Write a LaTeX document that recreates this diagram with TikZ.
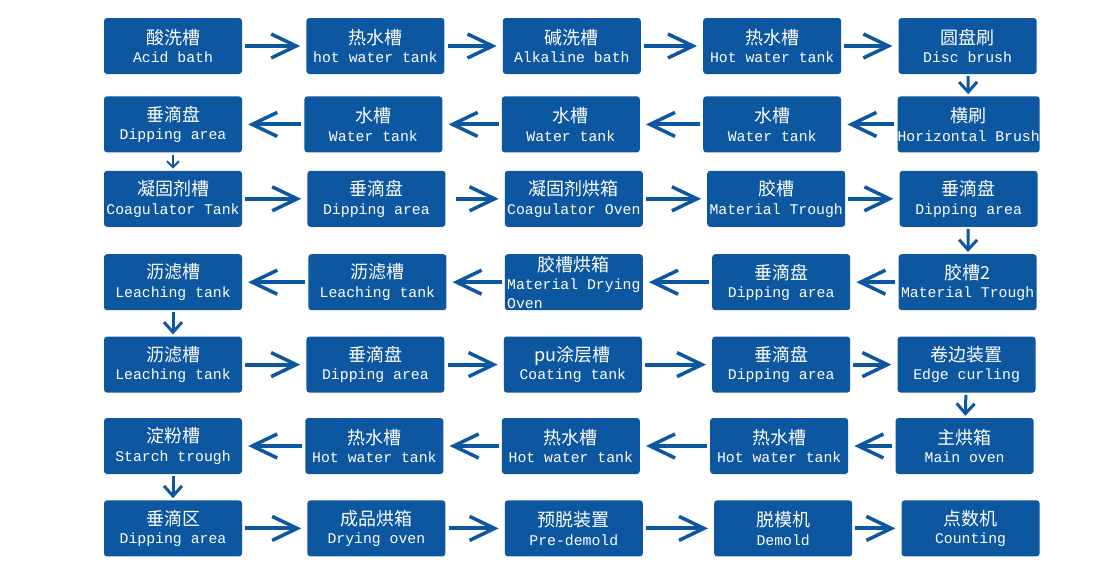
\documentclass[tikz,border=0pt]{standalone}
\usepackage{fontspec}
\setmonofont{Liberation Mono}
\newfontfamily\cjkfont{Noto Sans CJK SC}
\usepackage{xcolor}
\usepackage{tikz}
\usetikzlibrary{arrows.meta,positioning}
\definecolor{flowblue}{RGB}{13,86,160}
\newcommand{\zhline}[1]{{\cjkfont\fontsize{18}{18.5}\selectfont #1}}

\begin{document}
\begin{tikzpicture}[
        font=\ttfamily\fontsize{14.8}{18.5}\selectfont,
        box/.style={fill=flowblue, text=white, rounded corners=3pt, align=center, inner xsep=0pt, inner ysep=1pt, minimum width=138pt, minimum height=56pt},
        arr/.style={-{Straight Barb[length=25pt,width=24pt,line width=3.5pt]}, line width=4pt, flowblue, shorten <=3pt, shorten >=6pt},
        darr/.style={-{Straight Barb[length=10pt,width=18pt,line width=3pt]}, line width=3pt, flowblue, shorten <=2pt, shorten >=2pt}
    ]
        \useasboundingbox (0,0) rectangle (1102pt,-562pt);
        % row 1
        \node[box] (acid) at (173pt,-46pt) {\zhline{酸洗槽}\\Acid bath};
        \node[box, right=64pt of acid] (hotA) {\zhline{热水槽}\\hot water tank};
        \node[box, right=58pt of hotA] (alkali) {\zhline{碱洗槽}\\Alkaline bath};
        \node[box, right=62pt of alkali] (hotB) {\zhline{热水槽}\\Hot water tank};
        \node[box, right=57pt of hotB] (disc) {\zhline{圆盘刷}\\Disc brush};
        % row 2
        \node[box, below=22pt of acid] (dripA) {\zhline{垂滴盘}\\Dipping area};
        \node[box, right=62pt of dripA] (waterA) {\zhline{水槽}\\Water tank};
        \node[box, right=59pt of waterA] (waterB) {\zhline{水槽}\\Water tank};
        \node[box, right=63pt of waterB] (waterC) {\zhline{水槽}\\Water tank};
        \node[box, right=56pt of waterC] (hbrush) {\zhline{横刷}\\Horizontal Brush};
        % row 3
        \node[box, below=18pt of dripA] (coag) {\zhline{凝固剂槽}\\Coagulator Tank};
        \node[box, right=65pt of coag] (dripB) {\zhline{垂滴盘}\\Dipping area};
        \node[box, right=59pt of dripB] (coagoven) {\zhline{凝固剂烘箱}\\Coagulator Oven};
        \node[box, right=64pt of coagoven] (trough) {\zhline{胶槽}\\Material Trough};
        \node[box, right=54pt of trough] (dripC) {\zhline{垂滴盘}\\Dipping area};
        % row 4
        \node[box, below=27pt of coag] (leachA) {\zhline{沥滤槽}\\Leaching tank};
        \node[box, right=66pt of leachA] (leachB) {\zhline{沥滤槽}\\Leaching tank};
        \node[box, right=58pt of leachB] (dryoven) {\zhline{胶槽烘箱}\\Material Drying\\Oven\phantom{00000000000}};
        \node[box, right=69pt of dryoven] (dripD) {\zhline{垂滴盘}\\Dipping area};
        \node[box, right=48pt of dripD] (trough2) {\zhline{胶槽2}\\Material Trough};
        % row 5
        \node[box, below=26pt of leachA] (leachC) {\zhline{沥滤槽}\\Leaching tank};
        \node[box, right=64pt of leachC] (dripE) {\zhline{垂滴盘}\\Dipping area};
        \node[box, right=59pt of dripE] (pu) {\zhline{pu涂层槽}\\Coating tank};
        \node[box, right=70pt of pu] (dripF) {\zhline{垂滴盘}\\Dipping area};
        \node[box, right=47pt of dripF] (curl) {\zhline{卷边装置}\\Edge curling};
        % row 6
        \node[box, below=25pt of leachC] (starch) {\zhline{淀粉槽}\\Starch trough};
        \node[box, right=63pt of starch] (hotC) {\zhline{热水槽}\\Hot water tank};
        \node[box, right=58pt of hotC] (hotD) {\zhline{热水槽}\\Hot water tank};
        \node[box, right=70pt of hotD] (hotE) {\zhline{热水槽}\\Hot water tank};
        \node[box, right=47pt of hotE] (mainoven) {\zhline{主烘箱}\\Main oven};
        % row 7
        \node[box, below=26pt of starch] (dripG) {\zhline{垂滴区}\\Dipping area};
        \node[box, right=65pt of dripG] (prodoven) {\zhline{成品烘箱}\\Drying oven};
        \node[box, right=59pt of prodoven] (predemold) {\zhline{预脱装置}\\Pre-demold};
        \node[box, right=71pt of predemold] (demold) {\zhline{脱模机}\\Demold};
        \node[box, right=49pt of demold] (count) {\zhline{点数机}\\Counting};
        % flow
        \draw[arr] (acid) -- (hotA);
        \draw[arr] (hotA) -- (alkali);
        \draw[arr] (alkali) -- (hotB);
        \draw[arr] (hotB) -- (disc);
        \draw[darr] (disc) -- (hbrush);
        \draw[arr] (hbrush) -- (waterC);
        \draw[arr] (waterC) -- (waterB);
        \draw[arr] (waterB) -- (waterA);
        \draw[arr] (waterA) -- (dripA);
        \draw[darr, -{Straight Barb[length=6pt,width=12pt,line width=2pt]}, line width=2pt] (dripA) -- (coag);
        \draw[arr] (coag) -- (dripB);
        \draw[arr, shorten <=10pt] (dripB) -- (coagoven);
        \draw[arr] (coagoven) -- (trough);
        \draw[arr] (trough) -- (dripC);
        \draw[darr] (dripC) -- (trough2);
        \draw[arr] (trough2) -- (dripD);
        \draw[arr] (dripD) -- (dryoven);
        \draw[arr] (dryoven) -- (leachB);
        \draw[arr] (leachB) -- (leachA);
        \draw[darr] (leachA) -- (leachC);
        \draw[arr] (leachC) -- (dripE);
        \draw[arr] (dripE) -- (pu);
        \draw[arr] (pu) -- (dripF);
        \draw[arr] (dripF) -- (curl);
        \draw[darr] (curl) -- (mainoven);
        \draw[arr] (mainoven) -- (hotE);
        \draw[arr] (hotE) -- (hotD);
        \draw[arr] (hotD) -- (hotC);
        \draw[arr] (hotC) -- (starch);
        \draw[darr] (starch) -- (dripG);
        \draw[arr] (dripG) -- (prodoven);
        \draw[arr] (prodoven) -- (predemold);
        \draw[arr] (predemold) -- (demold);
        \draw[arr] (demold) -- (count);
    \end{tikzpicture}
\end{document}
